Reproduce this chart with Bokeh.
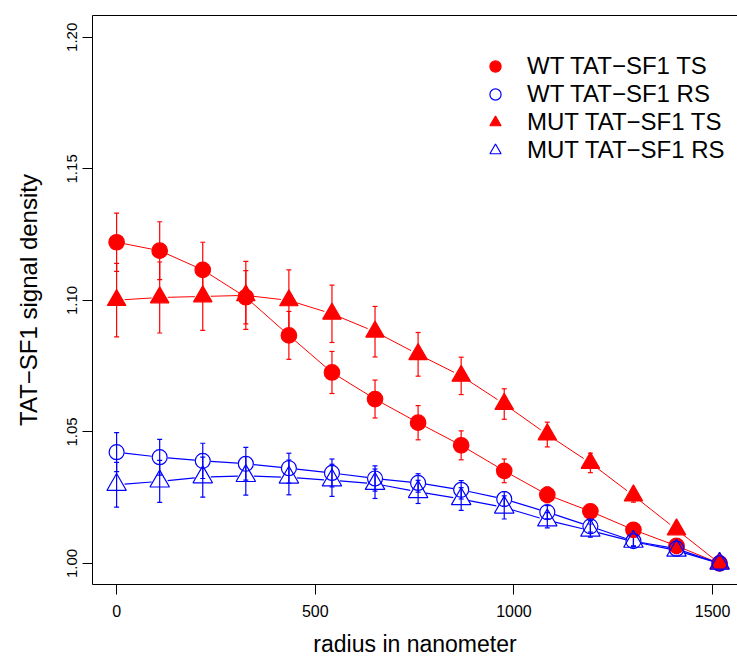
import math
from bokeh.plotting import figure
from bokeh.models import (Range1d, LinearAxis, FixedTicker, Whisker, TeeHead,
                          ColumnDataSource, Legend, LegendItem, PrintfTickFormatter)
from bokeh.embed import file_html
from bokeh.resources import INLINE

# ---------------- data ----------------
radius = [0, 108.4, 216.8, 325.2, 433.6, 542.0, 650.4, 758.8, 867.2, 975.6,
          1084.0, 1192.4, 1300.8, 1409.2, 1517.6]

wt_ts = [1.1221, 1.1189, 1.1116, 1.1012, 1.0867, 1.0726, 1.0625, 1.0535, 1.0449,
         1.0352, 1.0261, 1.0198, 1.0128, 1.0067, 1.0000]
wt_ts_err = [0.0111, 0.0110, 0.0105, 0.0101, 0.0091, 0.0080, 0.0072, 0.0065, 0.0055,
             0.0045, 0.0030, 0.0025, 0.0020, 0.0015, 0.0003]

mut_ts = [1.1001, 1.1011, 1.1015, 1.1019, 1.1000, 1.0949, 1.0881, 1.0795, 1.0713,
          1.0606, 1.0490, 1.0382, 1.0258, 1.0129, 1.0000]
mut_ts_err = [0.0140, 0.0135, 0.0129, 0.0129, 0.0116, 0.0109, 0.0096, 0.0083, 0.0071,
              0.0058, 0.0047, 0.0037, 0.0025, 0.0015, 0.0003]

wt_rs = [1.0423, 1.0404, 1.0390, 1.0379, 1.0362, 1.0344, 1.0323, 1.0306, 1.0280,
         1.0245, 1.0195, 1.0141, 1.0085, 1.0056, 1.0000]
wt_rs_err = [0.0074, 0.0068, 0.0067, 0.0062, 0.0057, 0.0053, 0.0048, 0.0035, 0.0035,
             0.0028, 0.0025, 0.0022, 0.0018, 0.0012, 0.0003]

mut_rs = [1.0299, 1.0312, 1.0328, 1.0333, 1.0327, 1.0316, 1.0303, 1.0272, 1.0245,
          1.0213, 1.0164, 1.0125, 1.0083, 1.0049, 1.0000]
mut_rs_err = [0.0085, 0.0080, 0.0076, 0.0073, 0.0066, 0.0061, 0.0056, 0.0044, 0.0043,
              0.0044, 0.0029, 0.0025, 0.0018, 0.0012, 0.0003]

labels = ["WT TAT\u2212SF1 TS", "WT TAT\u2212SF1 RS", "MUT TAT\u2212SF1 TS", "MUT TAT\u2212SF1 RS"]
x_title = "radius in nanometer"
y_title = "TAT\u2212SF1 signal density"
x_ticks = [0, 500, 1000, 1500]
y_ticks = [1.00, 1.05, 1.10, 1.15, 1.20]

# ---------------- layout ----------------
X_START, X_END = -60.7, 1562.7
Y_START, Y_END = 0.9920, 1.2083
W, H = 737, 660
BL, BR, BT, BB = 92, 0, 15, 76
FW, FH = W - BL - BR, H - BT - BB
FONT = "Liberation Sans"
RED, BLUE = "#FF0000", "#0000FF"

p = figure(width=W, height=H, x_range=Range1d(X_START, X_END),
           y_range=Range1d(Y_START, Y_END), output_backend="svg",
           toolbar_location=None, min_border_left=BL, min_border_right=BR,
           min_border_top=BT, min_border_bottom=BB,
           x_axis_label=x_title, y_axis_label=y_title)
p.xgrid.visible = False
p.ygrid.visible = False
p.outline_line_color = None
p.background_fill_color = "white"
p.border_fill_color = "white"

for ax in (p.xaxis[0], p.yaxis[0]):
    ax.axis_line_color = "black"
    ax.axis_line_width = 1
    ax.major_tick_line_color = "black"
    ax.minor_tick_line_color = None
    ax.major_tick_out = 10
    ax.major_tick_in = 0
    ax.major_label_text_font = FONT
    ax.major_label_text_color = "black"
    ax.axis_label_text_font = FONT
    ax.axis_label_text_font_style = "normal"
    ax.axis_label_text_color = "black"

p.xaxis.ticker = FixedTicker(ticks=x_ticks)
p.yaxis.ticker = FixedTicker(ticks=y_ticks)
p.yaxis.formatter = PrintfTickFormatter(format="%.2f")
p.xaxis.major_label_text_font_size = "16px"
p.yaxis.major_label_text_font_size = "15px"
p.yaxis.major_label_orientation = "vertical"
p.xaxis.major_label_standoff = 10
p.yaxis.major_label_standoff = 5
p.xaxis.axis_label_text_font_size = "23px"
p.yaxis.axis_label_text_font_size = "24px"
p.xaxis.axis_label_standoff = 11
p.yaxis.axis_label_standoff = 23

top = LinearAxis(ticker=FixedTicker(ticks=[]), major_label_text_font_size="0px",
                 major_tick_out=0, major_tick_in=0, minor_tick_out=0, minor_tick_in=0,
                 major_label_standoff=0, axis_line_color="black")
p.add_layout(top, "above")

# ---------------- series ----------------
GAP = 8.0
sx = FW / (X_END - X_START)
sy = FH / (Y_END - Y_START)


def gapped_segments(xs, ys):
    x0, y0, x1, y1 = [], [], [], []
    for i in range(len(xs) - 1):
        dxp = (xs[i + 1] - xs[i]) * sx
        dyp = (ys[i + 1] - ys[i]) * sy
        L = math.hypot(dxp, dyp)
        if L <= 2 * GAP:
            continue
        t = GAP / L
        x0.append(xs[i] + t * (xs[i + 1] - xs[i]))
        y0.append(ys[i] + t * (ys[i + 1] - ys[i]))
        x1.append(xs[i + 1] - t * (xs[i + 1] - xs[i]))
        y1.append(ys[i + 1] - t * (ys[i + 1] - ys[i]))
    return x0, y0, x1, y1


series = [
    (wt_ts, wt_ts_err, RED, "circle", 15.5, True, 1.0),
    (mut_ts, mut_ts_err, RED, "triangle", 18.5, True, 1.0),
    (wt_rs, wt_rs_err, BLUE, "circle", 15, False, 1.2),
    (mut_rs, mut_rs_err, BLUE, "triangle", 19.5, False, 1.2),
]
legend_order = [0, 2, 1, 3]
scatter_renderers = []
for vals, errs, col, mk, size, filled, lw in series:
    src = ColumnDataSource(dict(x=radius,
                                lower=[v - e for v, e in zip(vals, errs)],
                                upper=[v + e for v, e in zip(vals, errs)]))
    wh = Whisker(source=src, base="x", lower="lower", upper="upper",
                 dimension="height", line_color=col, line_width=1.2,
                 upper_head=TeeHead(size=5, line_color=col, line_width=1.2),
                 lower_head=TeeHead(size=5, line_color=col, line_width=1.2))
    p.add_layout(wh)
    x0, y0, x1, y1 = gapped_segments(radius, vals)
    p.segment(x0, y0, x1, y1, line_color=col, line_width=lw)
    r = p.scatter(radius, vals, marker=mk, size=size,
                  fill_color=col if filled else None,
                  line_color=col, line_width=1.2)
    scatter_renderers.append(r)

items = [LegendItem(label=labels[k], renderers=[scatter_renderers[s]])
         for k, s in enumerate(legend_order)]
legend = Legend(items=items, location=(388, 420), padding=0, spacing=0, margin=0,
                glyph_width=30, glyph_height=28, label_height=28, label_standoff=17,
                label_text_font=FONT, label_text_font_size="24px",
                label_text_color="black", background_fill_alpha=0,
                border_line_color=None)
p.add_layout(legend)

open("out.html", "w").write(file_html(p, INLINE))
